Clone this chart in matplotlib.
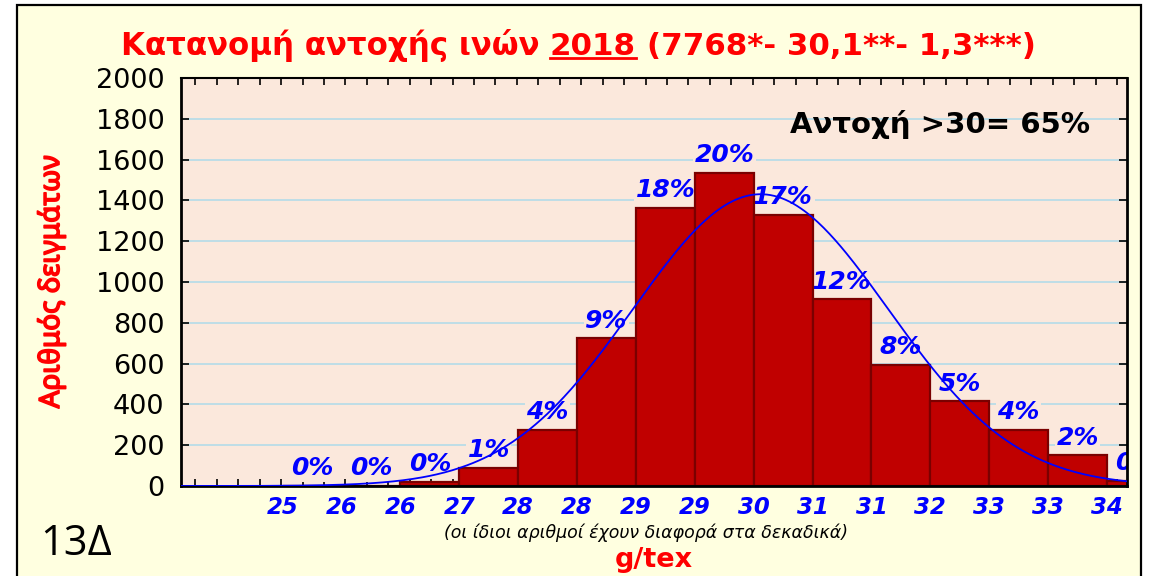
import numpy as np
import matplotlib
matplotlib.use("Agg")
import matplotlib.pyplot as plt
import matplotlib.patheffects as pe
from matplotlib.patches import Rectangle
from matplotlib.lines import Line2D

# ---- data -------------------------------------------------------------
# class edges (g/tex): first edge and common class width
bin_start = 25.23
bin_width = 0.60
edge_labels = ["25", "26", "26", "27", "28", "28", "29", "29",
               "30", "31", "31", "32", "33", "33", "34"]
counts = [0, 0, 22, 90, 275, 725, 1365, 1535, 1330, 915, 595, 415, 275, 150, 25]

n_samples = 7768
mean_strength = 30.1
sd_strength = 1.3
share_above_30 = 65
year = "2018"
sheet_code = "13Δ"

# ---- styling ----------------------------------------------------------
W, H = 1150, 576
PAGE_BG = "#ffffe0"
PLOT_BG = "#fbe8dc"
GRID = "#b9dce8"
BAR_FILL = "#c00000"
BAR_EDGE = "#7a0000"
BLUE = "#0000ff"
RED = "#ff0000"

fig = plt.figure(figsize=(W / 100, H / 100), dpi=100, facecolor="white")

# page frame
frame = Rectangle((17 / W, -0.1), (1141 - 17) / W, 1 - 5 / H + 0.1,
                  transform=fig.transFigure, facecolor=PAGE_BG,
                  edgecolor="black", lw=1.6, zorder=-10)
fig.patches.append(frame)

ax = fig.add_axes([181 / W, 1 - 486 / H, (1127 - 181) / W, (486 - 78) / H])
ax.set_facecolor(PLOT_BG)

n_bins = len(counts)
edges = bin_start + bin_width * np.arange(n_bins + 1)
x_min = bin_start - 1.726 * bin_width
x_max = bin_start + 14.34 * bin_width

# histogram bars
ax.bar(edges[:-1], counts, width=bin_width, align="edge",
       color=BAR_FILL, edgecolor=BAR_EDGE, linewidth=1.6, zorder=2)

# percentage labels above every class
centers = edges[:-1] + bin_width / 2
for xc, c in zip(centers, counts):
    pct = int(round(100 * c / n_samples))
    ax.annotate(f"{pct}%", xy=(xc, c), xytext=(0, 4),
                textcoords="offset points", ha="center", va="bottom",
                fontsize=18, fontweight="bold", fontstyle="italic",
                family="DejaVu Sans", color=BLUE, zorder=1.8,
                annotation_clip=False, clip_on=True,
                bbox=dict(boxstyle="square,pad=0.06", facecolor=PLOT_BG,
                          edgecolor="none"))

# fitted normal curve
xs = np.linspace(x_min, x_max, 500)
pdf = np.exp(-0.5 * ((xs - mean_strength) / sd_strength) ** 2) / (sd_strength * np.sqrt(2 * np.pi))
ax.plot(xs, n_samples * bin_width * pdf, color=BLUE, lw=1.3, zorder=4)

# axes
ax.set_xlim(x_min, x_max)
ax.set_ylim(0, 2000)
ax.set_yticks(np.arange(0, 2001, 200))
ax.yaxis.grid(True, color=GRID, lw=1.3)
ax.set_axisbelow(True)

ax.set_xticks(edges[:-1], edge_labels)
minor_x = np.arange(x_min + 0.147, x_max, 0.364 * bin_width)
ax.set_xticks(minor_x, minor=True)
ax.tick_params(axis="x", which="major", length=0, pad=7,
               labelsize=16.5, labelcolor=BLUE)
ax.tick_params(axis="x", which="minor", direction="in", length=5, width=1.2,
               top=True, bottom=True)
for lbl in ax.get_xticklabels():
    lbl.set_fontweight("bold")
    lbl.set_fontstyle("italic")
    lbl.set_family("DejaVu Sans")
ax.tick_params(axis="y", which="major", direction="in", length=6, width=1.2,
               left=True, right=True, pad=12, labelsize=19.5, labelcolor="black")

for side, lw in (("left", 2.0), ("bottom", 2.0), ("right", 2.0), ("top", 1.5)):
    ax.spines[side].set_linewidth(lw)
    ax.spines[side].set_color("black")

# title with underlined year
title_parts = ["Κατανομή αντοχής ινών", year,
               f"({n_samples}*- {mean_strength:.1f}**- {sd_strength:.1f}***)".replace(".", ",")]
title_kw = dict(fontsize=22.2, fontweight="bold", color=RED,
                family="DejaVu Sans", va="baseline", ha="left")
baseline_y = 1 - 55 / H
renderer = fig.canvas.get_renderer()
parts = [fig.text(0, baseline_y, p, **title_kw) for p in title_parts]
probe_a = fig.text(0, 0, "a a", **title_kw)
probe_b = fig.text(0, 0, "aa", **title_kw)
space_w = (probe_a.get_window_extent(renderer).width
           - probe_b.get_window_extent(renderer).width)
probe_a.remove()
probe_b.remove()
widths = [t.get_window_extent(renderer).width for t in parts]
total = sum(widths) + space_w * (len(parts) - 1)
x_px = 578 - total / 2
for t, w in zip(parts, widths):
    t.set_x(x_px / W)
    x_px += w + space_w
ext = parts[1].get_window_extent(renderer)
ul_y = baseline_y * H - 3
fig.add_artist(Line2D([ext.x0 / W, ext.x1 / W], [ul_y / H, ul_y / H],
                      transform=fig.transFigure, color=RED, lw=2.0))

# annotations
fig.text(790 / W, 1 - 133 / H, f"Αντοχή >30= {share_above_30}%",
         fontsize=21, fontweight="bold", color="black",
         family="DejaVu Sans", va="baseline", ha="left")
fig.text(52 / W, 1 - 282 / H, "Αριθμός δειγμάτων", rotation=90,
         fontsize=20, color=RED,
         family=["Liberation Sans Narrow", "Noto Sans"],
         ha="center", va="center",
         path_effects=[pe.withStroke(linewidth=1.2, foreground=RED)])
fig.text(646 / W, 1 - 538 / H, "(οι ίδιοι αριθμοί έχουν διαφορά στα δεκαδικά)",
         fontsize=12.5, fontstyle="italic", color="black",
         family="DejaVu Sans", ha="center", va="baseline")
fig.text(654 / W, 1 - 567 / H, "g/tex", fontsize=19.5, fontweight="bold",
         color=RED, family="DejaVu Sans", ha="center", va="baseline")
fig.text(40 / W, 1 - 555 / H, sheet_code, fontsize=30, color="black",
         family=["Open Sans", "DejaVu Sans"], ha="left", va="baseline")

fig.savefig("out.png", dpi=100, facecolor=fig.get_facecolor())
